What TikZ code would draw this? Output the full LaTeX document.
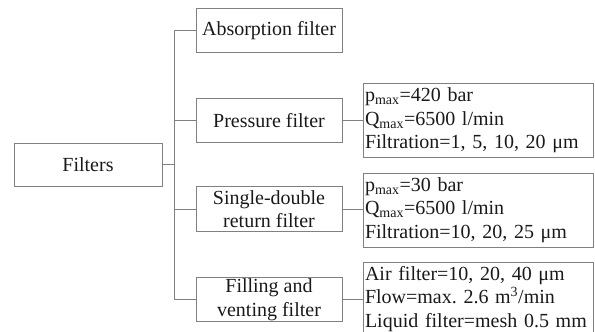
\documentclass[tikz,border=0pt]{standalone}
\usepackage{fontspec}
\setmainfont{Liberation Serif}
\definecolor{linegray}{RGB}{128,128,128}
\definecolor{textgray}{RGB}{25,25,25}
\newcommand{\fsz}{\fontsize{20}{23.5}\selectfont}
\begin{document}
\begin{tikzpicture}[x=1pt,y=-1pt,
  box/.style={draw=linegray, line width=0.8pt, minimum width=146pt, minimum height=44.5pt, inner sep=0pt, align=center, font=\fsz, text=textgray},
  info/.style={draw=linegray, line width=0.8pt, text width=226pt, inner xsep=2pt, inner ysep=0pt, minimum height=74pt, align=left, font=\fsz, text=textgray},
  conn/.style={draw=linegray, line width=0.8pt}]
\useasboundingbox (0,0) rectangle (595,332);
\node[box, minimum width=148pt, minimum height=43pt] (filters) at (88,164.5) {Filters};
\node[box] (abs) at (269,30.5) {Absorption filter};
\node[box] (press) at (269,120.3) {Pressure filter};
\node[box] (single) at (269,209) {Single-double\\return filter};
\node[box] (fill) at (269,299.5) {Filling and\\venting filter};
\node[info] (pinfo) at (478,120.5) {p\textsubscript{max}=420 bar\\Q\textsubscript{max}=6500 l/min\\Filtration=1, 5, 10, 20 μm};
\node[info] (sinfo) at (478,210) {p\textsubscript{max}=30 bar\\Q\textsubscript{max}=6500 l/min\\Filtration=10, 20, 25 μm};
\node[info] (finfo) at (478,299) {Air filter=10, 20, 40 μm\\Flow=max.\ 2.6 m\textsuperscript{3}/min\\Liquid filter=mesh 0.5 mm};
\coordinate (tx) at (174.5,0);
\draw[conn] (abs.west) -- (abs.west -| tx) -- (fill.west -| tx) -- (fill.west);
\draw[conn] (press.west) -- (press.west -| tx);
\draw[conn] (single.west) -- (single.west -| tx);
\draw[conn] (filters.east) -- (filters.east -| tx);
\draw[conn] (press.east) -- (press.east -| pinfo.west);
\draw[conn] (single.east) -- (single.east -| sinfo.west);
\draw[conn] (fill.east) -- (fill.east -| finfo.west);
\end{tikzpicture}
\end{document}
